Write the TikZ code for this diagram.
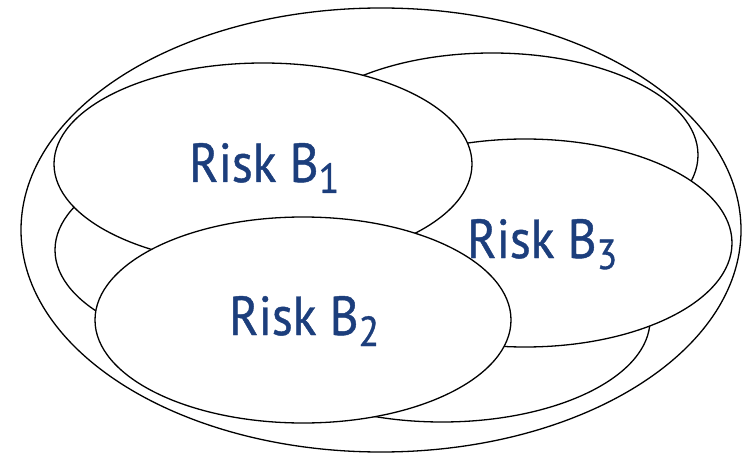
\documentclass[tikz,border=0pt]{standalone}
\usepackage{fontspec}
\setmainfont{PT Sans}
\newfontfamily\riskfont[FakeStretch=0.9, FakeBold=0.8]{PT Sans}
\definecolor{riskblue}{RGB}{28,62,124}
\tikzset{
  setshape/.style={draw=black, fill=white, line width=1.3pt},
  risklabel/.style={text=riskblue, inner sep=0pt, anchor=base west, font=\riskfont\fontsize{55}{60}\selectfont},
}
\newcommand{\risksub}[1]{\raisebox{-11pt}{\fontsize{42}{45}\selectfont #1}}
\begin{document}
\begin{tikzpicture}[x=1pt,y=-1pt]
  \useasboundingbox (0,0) rectangle (743,454);
  % outer universe
  \draw[setshape] (381,230) ellipse [x radius=360pt, y radius=222pt];
  % unlabelled background sets
  \draw[setshape] (492,155) ellipse [x radius=206pt, y radius=102pt];
  \draw[setshape] (262,250) ellipse [x radius=207pt, y radius=102pt];
  \draw[setshape] (442,320) ellipse [x radius=208pt, y radius=102pt];
  % labelled sets
  \draw[setshape] (525,243) ellipse [x radius=207pt, y radius=104pt];
  \draw[setshape] (263,164) ellipse [x radius=209pt, y radius=101pt];
  \draw[setshape] (303,320) ellipse [x radius=208pt, y radius=103pt];
  % labels
  \node[risklabel] (b1) at (189,182) {Risk B\risksub{1}};
  \node[risklabel] (b3) at (467,258) {Risk B\risksub{3}};
  \node[risklabel] (b2) at (229,335) {Risk B\risksub{2}};
\end{tikzpicture}
\end{document}
